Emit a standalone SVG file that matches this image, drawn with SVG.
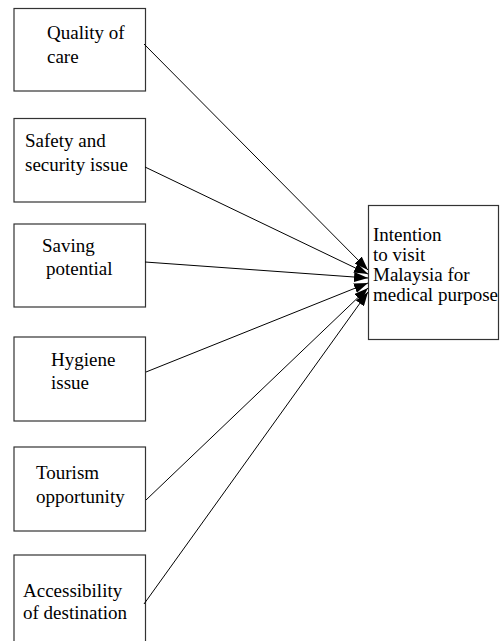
<svg xmlns="http://www.w3.org/2000/svg" width="503" height="641" viewBox="0 0 503 641">
<style>
.box{fill:#fff;stroke:#333;stroke-width:1.2}
.t{font-family:"Liberation Serif","Times New Roman",serif;font-size:19px;fill:#000}
.c{stroke:#000;stroke-width:1;fill:none;marker-end:url(#ah)}
</style>
<defs>
<marker id="ah" viewBox="0 0 14 10" refX="14" refY="5" markerWidth="14" markerHeight="10" markerUnits="userSpaceOnUse" orient="auto">
<path d="M0,0 L14,5 L0,10 z" fill="#000"/>
</marker>
</defs>
<rect width="503" height="641" fill="#fff"/>
<g id="n1"><rect class="box" x="14" y="8.5" width="131.5" height="82.5"/><text class="t" x="47" y="39">Quality of</text><text class="t" x="47" y="63">care</text></g>
<g id="n2"><rect class="box" x="14" y="118.5" width="131.5" height="83.5"/><text class="t" x="25" y="147">Safety and</text><text class="t" x="25" y="171">security issue</text></g>
<g id="n3"><rect class="box" x="14" y="224" width="131.5" height="83"/><text class="t" x="42" y="252">Saving</text><text class="t" x="46" y="275">potential</text></g>
<g id="n4"><rect class="box" x="14" y="337" width="131.5" height="84"/><text class="t" x="51" y="366">Hygiene</text><text class="t" x="51" y="389">issue</text></g>
<g id="n5"><rect class="box" x="14" y="447" width="131.5" height="84"/><text class="t" x="36" y="479">Tourism</text><text class="t" x="36" y="503">opportunity</text></g>
<g id="n6"><rect class="box" x="14" y="555" width="131.5" height="100"/><text class="t" x="23" y="597">Accessibility</text><text class="t" x="23" y="619">of destination</text></g>
<g id="n7"><rect class="box" x="368.5" y="205.5" width="130" height="134"/><text class="t" x="373" y="241">Intention</text><text class="t" x="373" y="261">to visit</text><text class="t" x="373" y="281">Malaysia for</text><text class="t" x="373" y="301">medical purpose</text></g>
<g id="connectors">
<line class="c" x1="144" y1="44" x2="368" y2="270"/>
<line class="c" x1="145" y1="167" x2="368" y2="274"/>
<line class="c" x1="145" y1="262" x2="368" y2="278"/>
<line class="c" x1="146" y1="372" x2="368" y2="283"/>
<line class="c" x1="146" y1="500" x2="368" y2="288"/>
<line class="c" x1="144" y1="604" x2="368" y2="292"/>
</g>
</svg>
